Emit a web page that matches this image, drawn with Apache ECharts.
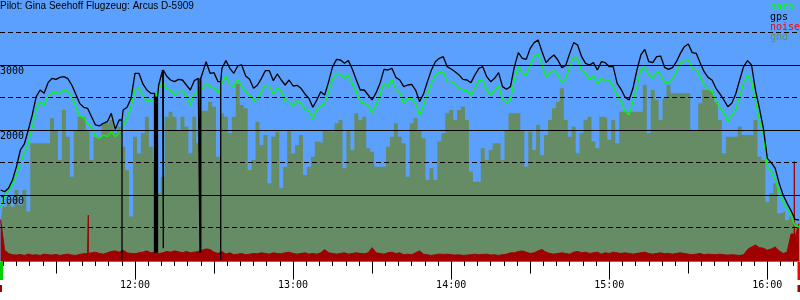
<!DOCTYPE html>
<html>
<head>
<meta charset="utf-8">
<script src="https://cdn.jsdelivr.net/npm/echarts@6/dist/echarts.min.js"></script>
<style>
html,body{margin:0;padding:0;background:#fff;}
#chart{width:800px;height:300px;}
</style>
</head>
<body>
<div id="chart"></div>
<script>
// ---- data (time in minutes after 11:00, sampled every 1.5 min from 11:09) ----
const T0 = 9, DT = 1.5;
const titleText = 'Pilot: Gina Seehoff Flugzeug: Arcus D-5909';
const legendNames = ['baro', 'gps', 'noise', 'gnd'];
const hourTicks = [60, 120, 180, 240, 300];
const hourLabels = ['12:00', '13:00', '14:00', '15:00', '16:00'];
const halfHourTicks = [30, 90, 150, 210, 270];
const fiveMinTicks = [10,15,20,25,30,35,40,45,50,55,60,65,70,75,80,85,90,95,100,105,110,115,120,125,130,135,140,145,150,155,160,165,170,175,180,185,190,195,200,205,210,215,220,225,230,235,240,245,250,255,260,265,270,275,280,285,290,295,300,305,310];
const yLabelValues = [1000, 2000, 3000];
const solidGrid = [1000, 2000, 3000];
const dashedGrid = [500, 1500, 2500, 3500];

const gps = [
1077,1051,1103,1231,1436,1692,1785,2000,2231,2513,
2615,2564,2728,2795,2779,2810,2820,2790,2692,2554,
2410,2349,2333,2205,2077,2062,2103,2128,2256,2010,
2154,2308,2349,2487,2872,2872,2708,2615,2564,2513,
2692,2923,2831,2769,2744,2779,2769,2692,2615,2759,
2795,
2820,3051,2872,2882,2744,2949,3067,2949,2872,2985,
3000,2831,2779,2641,2692,2795,2913,2913,2759,2862,
2769,2692,2769,2677,2687,2641,2554,2487,2349,2462,
2590,2538,2744,2974,3087,3077,3026,3067,2933,2769,
2615,2615,2538,2462,2574,2718,2933,2923,2949,2810,
2769,
2667,2692,2703,2615,2436,2554,2744,2923,3051,3103,
3128,2974,2938,2897,2846,2779,2769,2728,2846,2949,
2974,2820,2744,2795,2882,2667,2626,2667,2974,3190,
3103,3087,3256,3344,3385,3205,3036,3103,3154,3077,
2959,2995,3179,3344,3308,3128,3026,3000,3036,2923,
3051,3036,2974,2974,2718,2626,2503,2462,2641,2923,
3154,3241,3051,3036,3128,3138,2964,2933,2959,3051,
3179,3282,3323,3190,3179,3036,2897,2810,2769,2641,
2554,2462,2359,2410,2554,2769,2974,3067,3000,2615,
2333,2026,1564,1497,1410,1179,1000,872,759,626,
615];
// gps dropouts: [time, altitude the trace falls to]
const gpsDropouts = [[55.07,0],[67.40,110],[67.78,110],[68.16,110],[68.54,110],[70.74,180],[84.67,110],[84.98,110],[92.53,0]];

const baro = [
800,974,1077,1154,1308,1487,1641,1795,2051,2308,
2436,2385,2523,2574,2574,2554,2615,2590,2513,2369,
2215,2195,2092,2041,1897,1872,1923,1897,1974,1897,
1959,2062,2179,2359,2615,2641,2538,2436,2462,2462,
2641,2728,2641,2605,2538,2590,2600,2523,2385,2554,
2615,
2641,2718,2667,2641,2574,2718,2831,2692,2667,2779,
2677,2590,2538,2451,2472,2590,2692,2677,2554,2641,
2605,2446,2436,2369,2451,2410,2318,2297,2164,2318,
2369,2410,2590,2779,2872,2862,2795,2846,2708,2590,
2436,2410,2369,2267,2385,2538,2718,2667,2779,2626,
2574,
2410,2487,2487,2410,2231,2369,2554,2718,2846,2882,
2897,2744,2744,2708,2641,2615,2605,2523,2641,2759,
2779,2615,2538,2615,2677,2472,2420,2462,2779,2974,
2872,2846,3000,3128,3169,3000,2820,2882,2913,2846,
2728,2795,2974,3128,3087,2913,2872,2779,2831,2708,
2795,2744,2759,2677,2538,2436,2297,2231,2436,2667,
2933,2974,2846,2795,2897,2862,2728,2728,2779,2897,
3026,3077,3087,2949,2923,2820,2692,2626,2605,2436,
2349,2267,2128,2231,2308,2513,2718,2846,2744,2436,
2154,1923,1436,1359,1231,1051,897,795,692,523,
513];

const gnd = [
600,820,897,820,1077,846,1077,744,1795,1795,
1795,1795,1795,2179,2000,1538,2308,1897,1282,2000,
2205,2205,2000,1538,1897,1897,2103,2103,2154,1949,
2051,1744,1385,667,1897,1641,1949,2205,1744,1487,
1026,1282,2205,2282,2205,2000,2205,2051,1641,2205,
1795,
2297,2297,2436,2359,1590,2256,2205,1949,2205,2708,
2385,2333,1385,1538,2128,1769,1923,1179,1897,1974,
1103,1436,2000,1641,1769,1923,1308,1436,1590,1821,
1795,2000,1974,1974,2103,2154,1410,2000,1692,2256,
2154,2205,1718,1667,1436,1436,1436,1744,1897,2103,
1897,
1795,1282,2103,2179,2000,1872,1231,1410,1231,1821,
1949,2256,2308,2154,2308,2359,2154,1359,1205,1205,
1718,1538,1692,1795,1795,1538,2000,2256,2256,2256,
2000,1436,1974,1692,2077,1615,1923,2154,2333,2436,
2641,2154,1897,2051,1641,1949,2154,2205,1821,1718,
2205,2179,1851,2154,1795,2282,2282,2282,2282,2282,
2282,2692,1949,2615,2462,2154,2487,2692,2564,2564,
2564,2564,2564,2000,2000,2410,2615,2641,2590,2436,
2154,1641,1897,1897,1897,2051,1923,1923,1923,2154,
1590,1538,897,1026,1179,718,744,615,667,564,
615];

const noise = [
620,150,100,80,75,85,70,90,75,80,
70,90,80,75,85,70,80,90,75,70,
85,95,100,110,120,100,90,110,130,140,
120,150,110,100,95,110,120,140,110,120,
100,110,130,120,140,125,110,130,110,120,
130,
150,170,160,120,100,130,90,110,80,90,
100,80,90,100,95,110,100,90,110,100,
95,110,120,100,90,100,110,90,100,90,
110,160,110,100,90,100,110,90,100,110,
100,95,110,190,110,100,90,110,120,100,
110,
80,90,80,110,140,90,80,70,80,90,
85,90,80,75,80,70,75,80,90,80,
85,90,75,80,70,80,90,110,110,130,
140,120,100,110,140,160,120,100,90,100,
110,100,90,120,130,110,120,100,110,120,
90,110,100,120,110,100,110,100,90,100,
110,120,100,90,100,110,95,100,90,100,
110,100,90,80,90,100,80,90,85,80,
90,80,75,80,75,70,80,160,200,230,
190,180,150,170,200,140,100,120,400,350,
560];
// narrow noise spikes: [time, value]
const noiseSpikes = [[42.28, 690], [310.25, 1515]];

// ---- build series data ----
const times = gps.map((_, i) => T0 + DT * i);
function pairs(vals) { return times.map((t, i) => [t, vals[i]]); }
function withSpikes(vals, spikes) {
  const pts = pairs(vals);
  spikes.forEach(([ts, v]) => {
    let k = 0;
    while (k + 1 < times.length && times[k + 1] <= ts) k++;
    const base = vals[k];
    pts.push([ts, base], [ts, v], [ts, base]);
  });
  return pts.map((p, i) => ({p, i})).sort((a, b) => (a.p[0] - b.p[0]) || (a.i - b.i)).map(o => o.p);
}

const XMIN = 8.76, XMAX = 312.4;
const MONO = 'DejaVu Sans Mono';
const C = {
  bg: '#5aa0fc', gnd: '#668c66', noise: '#a00000', baro: '#00ff00', gps: '#000000', noiseLegend: '#ff0000'
};

const chart = echarts.init(document.getElementById('chart'), null, {renderer: 'canvas'});
const baseX = {type: 'value', min: XMIN, max: XMAX, position: 'bottom', gridIndex: 0,
  axisLine: {show: false}, splitLine: {show: false}};
chart.setOption({
  animation: false,
  backgroundColor: '#ffffff',
  title: {text: titleText, left: 0, top: 1, padding: 0, itemGap: 0,
    textStyle: {fontFamily: 'Liberation Sans', fontSize: 10, fontWeight: 'normal', color: '#000'}},
  legend: {orient: 'vertical', left: 764, top: 2, padding: 0, itemGap: 0, itemWidth: 0, itemHeight: 0,
    selectedMode: false,
    textStyle: {fontFamily: MONO, fontSize: 10, lineHeight: 10},
    data: [
      {name: legendNames[0], textStyle: {color: C.baro}},
      {name: legendNames[1], textStyle: {color: C.gps}},
      {name: legendNames[2], textStyle: {color: C.noiseLegend}},
      {name: legendNames[3], textStyle: {color: C.gnd}}
    ]},
  grid: {left: 0, right: 0, top: 0, bottom: 38.4, show: true, backgroundColor: C.bg, borderWidth: 0,
    containLabel: false, outerBoundsMode: 'none'},
  xAxis: [
    Object.assign({}, baseX, {
      axisTick: {show: true, length: 6, customValues: fiveMinTicks, lineStyle: {color: '#000'}},
      axisLabel: {show: false}}),
    Object.assign({}, baseX, {
      axisTick: {show: true, length: 12, customValues: halfHourTicks, lineStyle: {color: '#000'}},
      axisLabel: {show: false}}),
    Object.assign({}, baseX, {
      axisTick: {show: true, length: 18, customValues: hourTicks, lineStyle: {color: '#000'}},
      axisLabel: {show: true, customValues: hourTicks, margin: 19, color: '#000',
        fontFamily: MONO, fontSize: 10,
        formatter: v => { const k = hourTicks.indexOf(Math.round(v)); return k >= 0 ? hourLabels[k] : ''; }}})
  ],
  yAxis: {type: 'value', min: -25, max: 4000, interval: 1000, z: 10,
    axisLine: {show: false}, axisTick: {show: false}, splitLine: {show: false},
    axisLabel: {inside: true, margin: 0, align: 'left', verticalAlign: 'top', customValues: yLabelValues,
      color: '#000', fontFamily: MONO, fontSize: 10, padding: [1, 0, 0, 0],
      formatter: v => (yLabelValues.indexOf(v) >= 0 ? String(v) : '')}},
  series: [
    {name: 'gnd', type: 'line', xAxisIndex: 0, data: pairs(gnd), step: 'middle', showSymbol: false,
      color: C.gnd, lineStyle: {width: 0}, areaStyle: {color: C.gnd, opacity: 1, origin: 'start'}, z: 2,
      markLine: {silent: true, symbol: 'none', label: {show: false}, animation: false,
        data: solidGrid.map(v => ({yAxis: v, lineStyle: {type: 'solid', color: '#000', width: 1}}))
          .concat(dashedGrid.map(v => ({yAxis: v, lineStyle: {type: [5, 3], color: '#000', width: 1}})))}},
    {name: 'noise', type: 'line', xAxisIndex: 0, data: withSpikes(noise, noiseSpikes), showSymbol: false,
      color: C.noise, lineStyle: {width: 1, color: C.noise}, areaStyle: {color: C.noise, opacity: 1, origin: 'start'}, z: 3},
    {name: 'baro', type: 'line', xAxisIndex: 0, data: pairs(baro), showSymbol: false,
      color: C.baro, lineStyle: {width: 1.3, color: C.baro}, z: 4},
    {name: 'gps', type: 'line', xAxisIndex: 0, data: withSpikes(gps, gpsDropouts), showSymbol: false,
      color: C.gps, lineStyle: {width: 1.3, color: C.gps}, z: 5}
  ],
  graphic: [
    {type: 'rect', left: 0, top: 262, shape: {width: 3, height: 18}, style: {fill: '#00d000'}, silent: true},
    {type: 'rect', left: 0, top: 285, shape: {width: 2, height: 7}, style: {fill: '#a00000'}, silent: true},
    {type: 'rect', right: 0, top: 262, shape: {width: 2.5, height: 18}, style: {fill: '#ff0000'}, silent: true},
    {type: 'rect', right: 0, top: 285, shape: {width: 2.5, height: 7}, style: {fill: '#a00000'}, silent: true}
  ]
});
</script>
</body>
</html>
